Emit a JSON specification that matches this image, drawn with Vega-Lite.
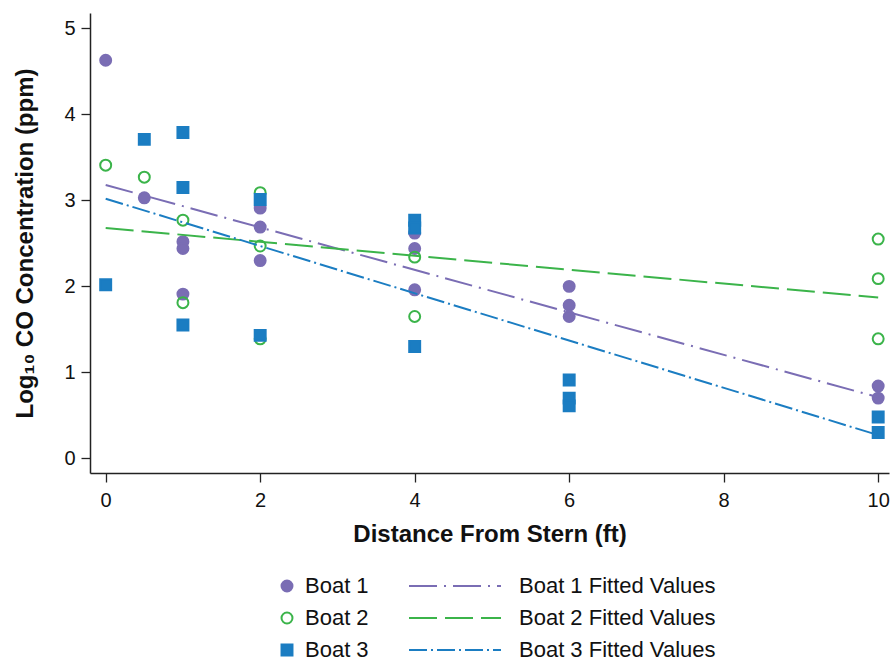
{
  "$schema": "https://vega.github.io/schema/vega-lite/v6.json",
  "width": 799,
  "height": 460,
  "autosize": "none",
  "padding": {"left": 90, "top": 13, "right": 1, "bottom": 189},
  "background": "white",
  "config": {
    "font": "Liberation Sans",
    "view": {"stroke": null},
    "axis": {
      "grid": false,
      "domainColor": "#222222",
      "domainWidth": 1.5,
      "tickColor": "#222222",
      "tickWidth": 1.3,
      "tickSize": 9,
      "labelFont": "Liberation Sans",
      "labelFontSize": 20,
      "labelColor": "#111111",
      "titleFont": "Liberation Sans",
      "titleFontSize": 24,
      "titleFontWeight": "bold",
      "titleColor": "#111111"
    },
    "legend": {
      "labelFont": "Liberation Sans",
      "labelFontSize": 22,
      "labelColor": "#111111",
      "labelLimit": 400,
      "rowPadding": 10,
      "title": null
    }
  },
  "datasets": {
    "points": [
      {"boat": "Boat 1", "distance": 0, "log_co": 4.63},
      {"boat": "Boat 1", "distance": 0.5, "log_co": 3.03},
      {"boat": "Boat 1", "distance": 1, "log_co": 2.52},
      {"boat": "Boat 1", "distance": 1, "log_co": 2.44},
      {"boat": "Boat 1", "distance": 1, "log_co": 1.91},
      {"boat": "Boat 1", "distance": 2, "log_co": 2.91},
      {"boat": "Boat 1", "distance": 2, "log_co": 2.69},
      {"boat": "Boat 1", "distance": 2, "log_co": 2.30},
      {"boat": "Boat 1", "distance": 4, "log_co": 2.62},
      {"boat": "Boat 1", "distance": 4, "log_co": 2.44},
      {"boat": "Boat 1", "distance": 4, "log_co": 1.96},
      {"boat": "Boat 1", "distance": 6, "log_co": 2.00},
      {"boat": "Boat 1", "distance": 6, "log_co": 1.78},
      {"boat": "Boat 1", "distance": 6, "log_co": 1.65},
      {"boat": "Boat 1", "distance": 10, "log_co": 0.84},
      {"boat": "Boat 1", "distance": 10, "log_co": 0.70},
      {"boat": "Boat 2", "distance": 0, "log_co": 3.41},
      {"boat": "Boat 2", "distance": 0.5, "log_co": 3.27},
      {"boat": "Boat 2", "distance": 1, "log_co": 2.77},
      {"boat": "Boat 2", "distance": 1, "log_co": 1.81},
      {"boat": "Boat 2", "distance": 2, "log_co": 3.09},
      {"boat": "Boat 2", "distance": 2, "log_co": 2.47},
      {"boat": "Boat 2", "distance": 2, "log_co": 1.39},
      {"boat": "Boat 2", "distance": 4, "log_co": 2.34},
      {"boat": "Boat 2", "distance": 4, "log_co": 1.65},
      {"boat": "Boat 2", "distance": 10, "log_co": 2.55},
      {"boat": "Boat 2", "distance": 10, "log_co": 2.09},
      {"boat": "Boat 2", "distance": 10, "log_co": 1.39},
      {"boat": "Boat 3", "distance": 0, "log_co": 2.02},
      {"boat": "Boat 3", "distance": 0.5, "log_co": 3.71},
      {"boat": "Boat 3", "distance": 1, "log_co": 3.79},
      {"boat": "Boat 3", "distance": 1, "log_co": 3.15},
      {"boat": "Boat 3", "distance": 1, "log_co": 1.55},
      {"boat": "Boat 3", "distance": 2, "log_co": 3.01},
      {"boat": "Boat 3", "distance": 2, "log_co": 1.43},
      {"boat": "Boat 3", "distance": 4, "log_co": 2.77},
      {"boat": "Boat 3", "distance": 4, "log_co": 2.68},
      {"boat": "Boat 3", "distance": 4, "log_co": 1.30},
      {"boat": "Boat 3", "distance": 6, "log_co": 0.91},
      {"boat": "Boat 3", "distance": 6, "log_co": 0.70},
      {"boat": "Boat 3", "distance": 6, "log_co": 0.61},
      {"boat": "Boat 3", "distance": 10, "log_co": 0.48},
      {"boat": "Boat 3", "distance": 10, "log_co": 0.30}
    ],
    "fits": [
      {"fit": "Boat 1 Fitted Values", "distance": 0, "fitted": 3.18},
      {"fit": "Boat 1 Fitted Values", "distance": 10, "fitted": 0.71},
      {"fit": "Boat 2 Fitted Values", "distance": 0, "fitted": 2.68},
      {"fit": "Boat 2 Fitted Values", "distance": 10, "fitted": 1.87},
      {"fit": "Boat 3 Fitted Values", "distance": 0, "fitted": 3.02},
      {"fit": "Boat 3 Fitted Values", "distance": 10, "fitted": 0.27}
    ]
  },
  "layer": [
    {
      "data": {"name": "points"},
      "mark": {"type": "point", "filled": true, "size": 120, "strokeWidth": 2, "opacity": 1},
      "encoding": {
        "x": {
          "field": "distance", "type": "quantitative",
          "scale": {"domain": [-0.203, 10.14], "nice": false, "zero": false},
          "axis": {"values": [0, 2, 4, 6, 8, 10], "format": "d", "title": "Distance From Stern (ft)", "labelPadding": 8, "titlePadding": 12}
        },
        "y": {
          "field": "log_co", "type": "quantitative",
          "scale": {"domain": [-0.171, 5.18], "nice": false, "zero": false},
          "axis": {"values": [0, 1, 2, 3, 4, 5], "format": "d", "title": "Log₁₀ CO Concentration (ppm)", "labelPadding": 6, "titlePadding": 26}
        },
        "fill": {
          "field": "boat", "type": "nominal",
          "scale": {"domain": ["Boat 1", "Boat 2", "Boat 3"], "range": ["#7a6db4", "transparent", "#1b7dc2"]},
          "legend": {"orient": "none", "legendX": 186, "legendY": 562, "labelOffset": 7, "symbolSize": 120, "symbolStrokeWidth": 2}
        },
        "stroke": {
          "field": "boat", "type": "nominal",
          "scale": {"domain": ["Boat 1", "Boat 2", "Boat 3"], "range": ["#7a6db4", "#3bb44a", "#1b7dc2"]},
          "legend": {"orient": "none", "legendX": 186, "legendY": 562, "labelOffset": 7, "symbolSize": 120, "symbolStrokeWidth": 2}
        },
        "shape": {
          "field": "boat", "type": "nominal",
          "scale": {"domain": ["Boat 1", "Boat 2", "Boat 3"], "range": ["circle", "circle", "square"]},
          "legend": {"orient": "none", "legendX": 186, "legendY": 562, "labelOffset": 7, "symbolSize": 120, "symbolStrokeWidth": 2}
        }
      }
    },
    {
      "data": {"name": "fits"},
      "mark": {"type": "line", "strokeWidth": 2},
      "encoding": {
        "x": {"field": "distance", "type": "quantitative"},
        "y": {"field": "fitted", "type": "quantitative"},
        "color": {
          "field": "fit", "type": "nominal",
          "scale": {"domain": ["Boat 1 Fitted Values", "Boat 2 Fitted Values", "Boat 3 Fitted Values"], "range": ["#7a6db4", "#3bb44a", "#1b7dc2"]},
          "legend": {"orient": "none", "legendX": 318, "legendY": 562, "labelOffset": 89, "symbolSize": 400, "symbolStrokeWidth": 2, "symbolType": "M-1,0H8.2"}
        },
        "strokeDash": {
          "field": "fit", "type": "nominal",
          "scale": {"domain": ["Boat 1 Fitted Values", "Boat 2 Fitted Values", "Boat 3 Fitted Values"], "range": [[28, 7, 2, 7], [28, 8], [18, 4, 2, 4]]},
          "legend": {"orient": "none", "legendX": 318, "legendY": 562, "labelOffset": 89, "symbolSize": 400, "symbolStrokeWidth": 2, "symbolType": "M-1,0H8.2"}
        }
      }
    }
  ]
}
